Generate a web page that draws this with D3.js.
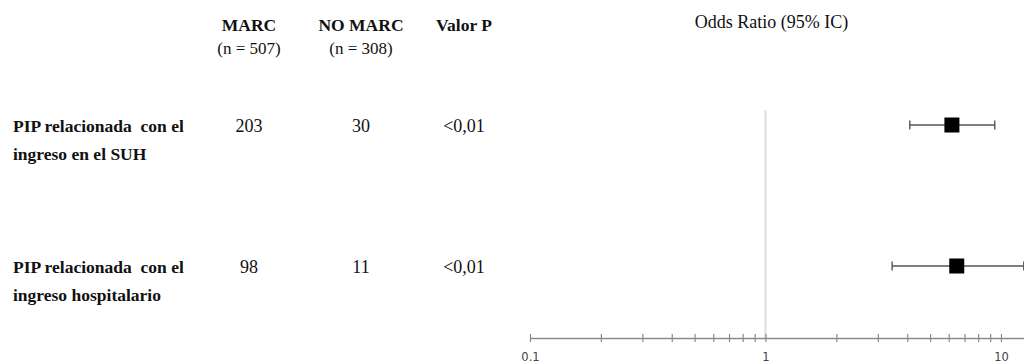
<!DOCTYPE html>
<html>
<head>
<meta charset="utf-8">
<script src="https://cdn.jsdelivr.net/npm/d3@7/dist/d3.min.js"></script>
<style>
  html, body { margin: 0; padding: 0; background: #fff; }
  svg { display: block; }
  .serif { font-family: "Liberation Serif", "Times New Roman", serif; fill: #111; }
  .axis text { font-family: "DejaVu Sans", Verdana, sans-serif; }
</style>
</head>
<body>
<svg id="chart" width="1024" height="364"></svg>
<script>
// Forest plot: PIP en pacientes MARC vs NO MARC
const outcomes = [
  ["PIP relacionada  con el", "ingreso en el SUH"],
  ["PIP relacionada  con el", "ingreso hospitalario"]
];
const marcCounts = ["203", "98"];
const noMarcCounts = ["30", "11"];
const pValues = ["<0,01", "<0,01"];
const oddsRatio = [6.19, 6.49];
const ciLower = [4.10, 3.45];
const ciUpper = [9.41, 12.5];
const headers = [
  { title: "MARC", sub: "(n = 507)" },
  { title: "NO MARC", sub: "(n = 308)" },
  { title: "Valor P", sub: "" }
];
const tickValues = [0.1, 0.2, 0.3, 0.4, 0.5, 0.6, 0.7, 0.8, 0.9, 1, 2, 3, 4, 5, 6, 7, 8, 9, 10];
const tickLabels = { 0.1: "0.1", 1: "1", 10: "10" };

const svg = d3.select("#chart");

// Layout
const colX = [249, 361, 464];
const rowY = [125, 266];
const axisY = 338;

const x = d3.scaleLog().domain([0.1, 12.6]).range([530, 1024.6]);
const y = d3.scalePoint().domain(d3.range(outcomes.length)).range(rowY);

// Column headers
headers.forEach((h, i) => {
  svg.append("text").attr("class", "serif")
    .attr("x", colX[i]).attr("y", 31)
    .attr("text-anchor", "middle")
    .attr("font-size", 17.5).attr("font-weight", "bold")
    .text(h.title);
  if (h.sub) {
    svg.append("text").attr("class", "serif")
      .attr("x", colX[i]).attr("y", 54)
      .attr("text-anchor", "middle")
      .attr("font-size", 17)
      .text(h.sub);
  }
});

svg.append("text").attr("class", "serif")
  .attr("x", x(1) + 6).attr("y", 28)
  .attr("text-anchor", "middle")
  .attr("font-size", 18)
  .text("Odds Ratio (95% IC)");

// Row text
outcomes.forEach((lines, i) => {
  const t = svg.append("text").attr("class", "serif")
    .attr("x", 13).attr("y", y(i) + 7)
    .attr("font-size", 17.5).attr("font-weight", "bold")
    .attr("xml:space", "preserve");
  lines.forEach((ln, j) => {
    t.append("tspan").attr("x", 13).attr("dy", j === 0 ? 0 : 28).text(ln);
  });
  [marcCounts[i], noMarcCounts[i], pValues[i]].forEach((v, c) => {
    svg.append("text").attr("class", "serif")
      .attr("x", colX[c]).attr("y", y(i) + 7)
      .attr("text-anchor", "middle")
      .attr("font-size", 18)
      .text(v);
  });
});

// Reference line at OR = 1
svg.append("line")
  .attr("x1", x(1)).attr("x2", x(1))
  .attr("y1", 110).attr("y2", axisY)
  .attr("stroke", "#dedede").attr("stroke-width", 2);

// Log axis
const axis = d3.axisBottom(x)
  .tickValues(tickValues)
  .tickSizeOuter(0)
  .tickFormat(d => tickLabels[d] || "");

const ax = svg.append("g").attr("class", "axis")
  .attr("transform", `translate(0,${axisY})`)
  .call(axis);
ax.select(".domain").attr("stroke", "#8a8a8a").attr("stroke-width", 1.3);
ax.selectAll(".tick line").attr("stroke", "#8a8a8a").attr("stroke-width", 1.2)
  .attr("y1", -4).attr("y2", 4);
ax.selectAll(".tick text").attr("fill", "#444").attr("font-size", 11.5)
  .attr("y", 23).attr("dy", 0);

// Confidence intervals and point estimates
const g = svg.append("g");
oddsRatio.forEach((or, i) => {
  const cy = y(i);
  g.append("line")
    .attr("x1", x(ciLower[i])).attr("x2", x(ciUpper[i]))
    .attr("y1", cy).attr("y2", cy)
    .attr("stroke", "#555").attr("stroke-width", 1.4);
  [ciLower[i], ciUpper[i]].forEach(v => {
    g.append("line")
      .attr("x1", x(v)).attr("x2", x(v))
      .attr("y1", cy - 4.5).attr("y2", cy + 4.5)
      .attr("stroke", "#555").attr("stroke-width", 1.4);
  });
  g.append("rect")
    .attr("x", x(or) - 7.5).attr("y", cy - 7.5)
    .attr("width", 15).attr("height", 15)
    .attr("fill", "#000");
});
</script>
</body>
</html>
